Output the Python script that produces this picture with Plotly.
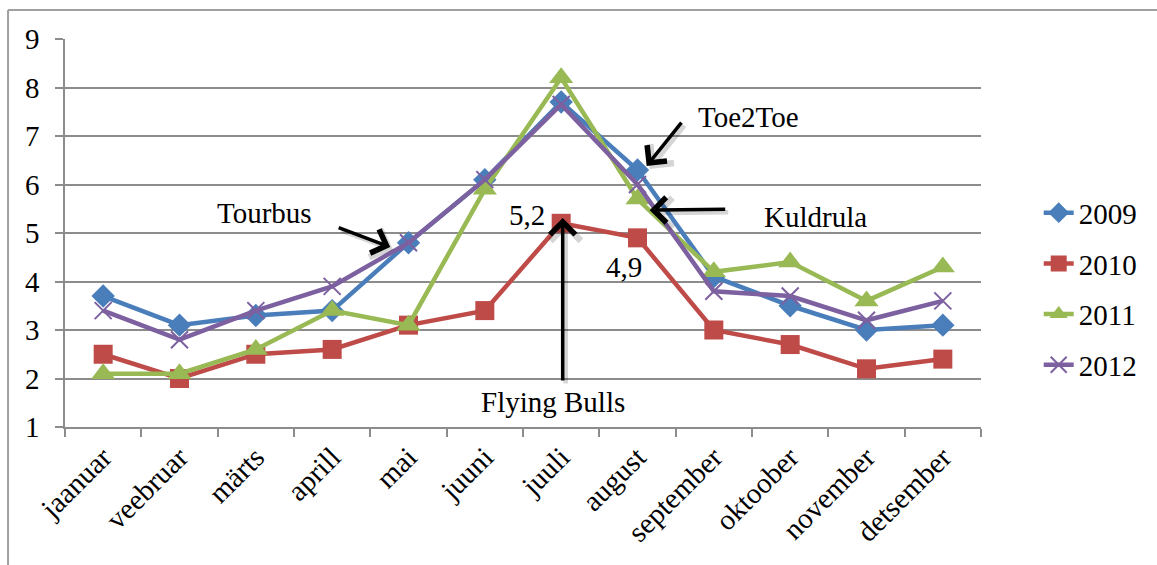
import plotly.graph_objects as go

# Monthly values per year
months = ["jaanuar", "veebruar", "märts", "aprill", "mai", "juuni",
          "juuli", "august", "september", "oktoober", "november", "detsember"]
years = ["2009", "2010", "2011", "2012"]
v2009 = [3.7, 3.1, 3.3, 3.4, 4.8, 6.1, 7.7, 6.3, 4.1, 3.5, 3.0, 3.1]
v2010 = [2.5, 2.0, 2.5, 2.6, 3.1, 3.4, 5.2, 4.9, 3.0, 2.7, 2.2, 2.4]
v2011 = [2.1, 2.1, 2.6, 3.4, 3.1, 5.9, 8.2, 5.7, 4.2, 4.4, 3.6, 4.3]
v2012 = [3.4, 2.8, 3.4, 3.9, 4.8, 6.1, 7.65, 6.0, 3.8, 3.7, 3.2, 3.6]
y_ticks = [1, 2, 3, 4, 5, 6, 7, 8, 9]

series = [v2009, v2010, v2011, v2012]
colors = ["#4A7EBB", "#BE4B48", "#98B954", "#7D60A0"]
symbols = ["diamond", "square", "triangle-up", "x-thin"]
msizes = [18, 19, 21, 17]

FONT = "Liberation Serif"
GRID = "#8C8C8C"

fig = go.Figure()
for name, vals, col, sym, ms in zip(years, series, colors, symbols, msizes):
    marker = dict(symbol=sym, size=ms, color=col)
    if sym == "x-thin":
        marker["line"] = dict(color=col, width=2)
    fig.add_trace(go.Scatter(
        x=months, y=vals, name=name, mode="lines+markers",
        line=dict(color=col, width=4.5), marker=marker,
        legendgroup=name,
    ))

# Text callouts and arrows pointing at the highlighted points
labels = [
    dict(text="Tourbus", x=2.12, y=5.41),
    dict(text="Toe2Toe", x=8.45, y=7.39),
    dict(text="Kuldrula", x=9.33, y=5.33),
    dict(text="Flying Bulls", x=5.89, y=1.52),
]
arrows = [
    dict(x=3.76, y=4.71, ax=-53, ay=-20),
    dict(x=7.12, y=6.38, ax=36, ay=-45),
    dict(x=7.16, y=5.47, ax=77, ay=-1),
    dict(x=6.02, y=5.31, ax=0, ay=164),
]
annotations = []
for lab in labels:
    annotations.append(dict(text=lab["text"], x=lab["x"], y=lab["y"],
                            xref="x", yref="y", showarrow=False,
                            font=dict(family=FONT, size=29, color="black")))
for a in arrows:
    # soft shadow under each arrow
    annotations.append(dict(text="", x=a["x"], y=a["y"], xref="x", yref="y",
                            ax=a["ax"], ay=a["ay"], showarrow=True,
                            arrowhead=4, arrowsize=1.3, arrowwidth=4.5,
                            arrowcolor="rgba(0,0,0,0.16)", xshift=3, yshift=-3))
    annotations.append(dict(text="", x=a["x"], y=a["y"], xref="x", yref="y",
                            ax=a["ax"], ay=a["ay"], showarrow=True,
                            arrowhead=4, arrowsize=1.4, arrowwidth=3.5,
                            arrowcolor="black"))
# value labels for 2010 peak months
annotations.append(dict(text="5,2", x=months[6], y=v2010[6], xref="x", yref="y",
                        showarrow=False, xshift=-34, yshift=8,
                        font=dict(family=FONT, size=29, color="black")))
annotations.append(dict(text="4,9", x=months[7], y=v2010[7], xref="x", yref="y",
                        showarrow=False, xshift=-14, yshift=-29,
                        font=dict(family=FONT, size=29, color="black")))

shapes = [
    # outer chart frame (left and top edges)
    dict(type="line", xref="paper", yref="paper", x0=-0.0622, x1=-0.0622,
         y0=1.0747, y1=-0.36, line=dict(color="#A0A0A0", width=2)),
    dict(type="line", xref="paper", yref="paper", x0=-0.0622, x1=1.2,
         y0=1.0747, y1=1.0747, line=dict(color="#A0A0A0", width=2)),
]

fig.update_layout(
    width=1157, height=565,
    margin=dict(l=65, r=176, t=39, b=138),
    paper_bgcolor="white", plot_bgcolor="white",
    font=dict(family=FONT, size=28, color="black"),
    showlegend=True,
    legend=dict(x=1.063, xanchor="left", y=0.356, yanchor="middle",
                font=dict(family=FONT, size=29), tracegroupgap=10,
                bgcolor="rgba(0,0,0,0)"),
    annotations=annotations,
    shapes=shapes,
    xaxis=dict(type="category", tickangle=-45, ticks="outside", ticklen=8,
               tickson="boundaries", tickcolor=GRID, tickwidth=1.5,
               showgrid=False, showline=True, linecolor=GRID, linewidth=1.5,
               tickfont=dict(family=FONT, size=29), range=[-0.5, 11.5],
               mirror=False),
    yaxis=dict(range=[1, 9], tickvals=y_ticks, ticks="outside", ticklen=8,
               tickcolor=GRID, tickwidth=1.5, showgrid=True, gridcolor=GRID,
               gridwidth=1.5, showline=True, linecolor=GRID, linewidth=1.5,
               zeroline=False, ticklabelstandoff=10,
               tickfont=dict(family=FONT, size=29)),
)

fig.write_html("out.html")
